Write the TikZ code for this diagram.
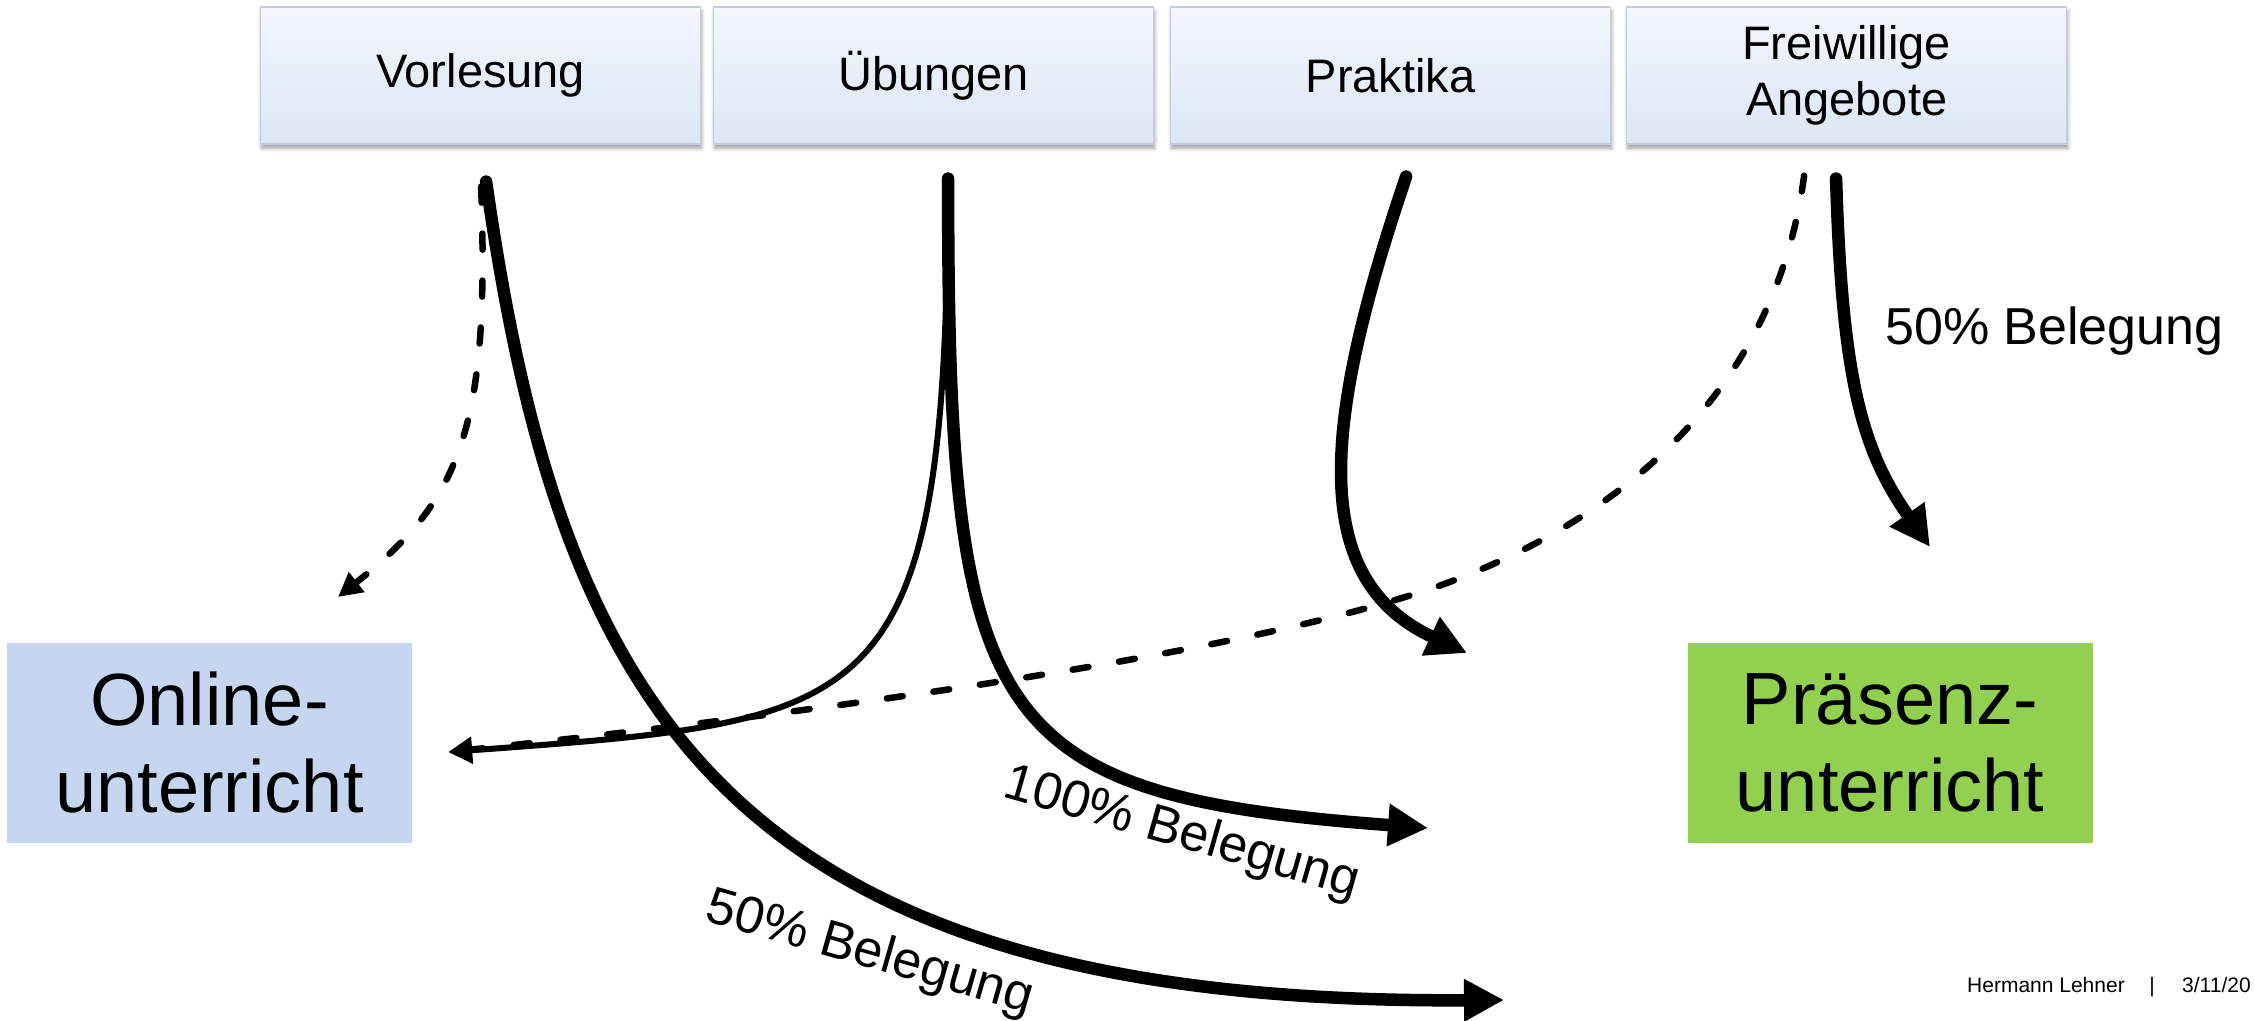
\documentclass[tikz,border=0pt]{standalone}
\usepackage{fontspec}
\setmainfont{Liberation Sans}
\usetikzlibrary{arrows.meta,shadows.blur}
\definecolor{boxtop}{RGB}{244,247,253}
\definecolor{boxbot}{RGB}{220,230,246}
\definecolor{boxline}{RGB}{196,204,220}
\definecolor{onlinefill}{RGB}{198,214,240}
\definecolor{praesenzfill}{RGB}{146,208,80}
\begin{document}
\begin{tikzpicture}[x=1pt,y=-1pt,line cap=round,
  topbox/.style={draw=boxline,line width=1.2pt,top color=boxtop,bottom color=boxbot,
    minimum width=440pt,minimum height=137pt,inner sep=0pt,align=center,
    font=\fontsize{47}{56}\selectfont,
    blur shadow={shadow xshift=1pt,shadow yshift=-4pt,shadow blur radius=4pt,shadow opacity=40}},
  modebox/.style={minimum width=405pt,minimum height=200pt,inner sep=0pt,align=center,
    font=\fontsize{74}{87}\selectfont},
  flowthick/.style={line width=12.5pt,-{Triangle[length=40pt,width=40pt]}},
  flowthin/.style={line width=6pt,-{Triangle[length=24pt,width=26pt]}},
  flowdash/.style={line width=6.5pt,dash pattern=on 16pt off 31pt},
  share/.style={font=\fontsize{52}{60}\selectfont,inner sep=0pt},
  footer/.style={font=\fontsize{21}{25}\selectfont,inner sep=0pt}]
\useasboundingbox (0,0) rectangle (2254,1020);

% course formats
\node[topbox] (vl) at (480.6,75.5) {Vorlesung};
\node[topbox] (ub) at (933.6,75.5) {Übungen};
\node[topbox] (pr) at (1390.6,75.5) {Praktika};
\node[topbox] (fw) at (1846.6,75.5) {Freiwillige\\Angebote};

% teaching modes
\node[modebox,fill=onlinefill] (onl) at (209.5,743) {Online-\\unterricht};
\node[modebox,fill=praesenzfill] (prs) at (1890,743) {Präsenz-\\unterricht};

% start points below the course boxes
\coordinate (vlS) at ([shift={(5.5,37)}]vl.south);
\coordinate (vlD) at ([shift={(0.5,42)}]vl.south);
\coordinate (ubS) at ([shift={(14.5,34)}]ub.south);
\coordinate (prS) at ([shift={(15.5,32)}]pr.south);
\coordinate (fwS) at ([shift={(-10.5,34)}]fw.south);
\coordinate (fwD) at ([shift={(-42.5,31)}]fw.south);

% arrow ends
\coordinate (onlN) at (338,597);
\coordinate (onlE) at ([shift={(36,9)}]onl.east);
\coordinate (end100) at (1428,828);
\coordinate (end50) at (1504,1000);
\coordinate (endPr) at (1467,653);
\coordinate (endFw) at (1930,547);

% flows
\draw[flowthick] (vlS) .. controls (560,700) and (720,1005) .. (end50);
\draw[flowdash,-{Triangle[length=24pt,width=24pt]}] (vlD) .. controls (490,430) and (460,500) .. (onlN);
\draw[flowthin] (ubS) .. controls (946,720) and (880,720) .. (onlE);
\draw[flowthick] (ubS) .. controls (948,725) and (985,795) .. (end100);
\draw[flowthick] (prS) .. controls (1320,430) and (1310,580) .. (endPr);
\draw[flowdash] (fwD) .. controls (1780,360) and (1658,504) .. (1447,583)
  .. controls (1250,655) and (800,715) .. (onlE);
\draw[flowthick] (fwS) .. controls (1842,380) and (1862,450) .. (endFw);

% occupancy labels
\node[share,anchor=base west] (l50a) at (1885,344) {50\% Belegung};
\node[share,anchor=base,rotate=-16] (l100) at (1178,847) {100\% Belegung};
\node[share,anchor=base,rotate=-16] (l50b) at (866,967) {50\% Belegung};

% footer
\node[footer,anchor=base west] (author) at (1967,992) {Hermann Lehner};
\node[footer,anchor=base] (sep) at (2152,992) {|};
\node[footer,anchor=base west] (date) at (2182,992) {3/11/20};
\end{tikzpicture}
\end{document}
